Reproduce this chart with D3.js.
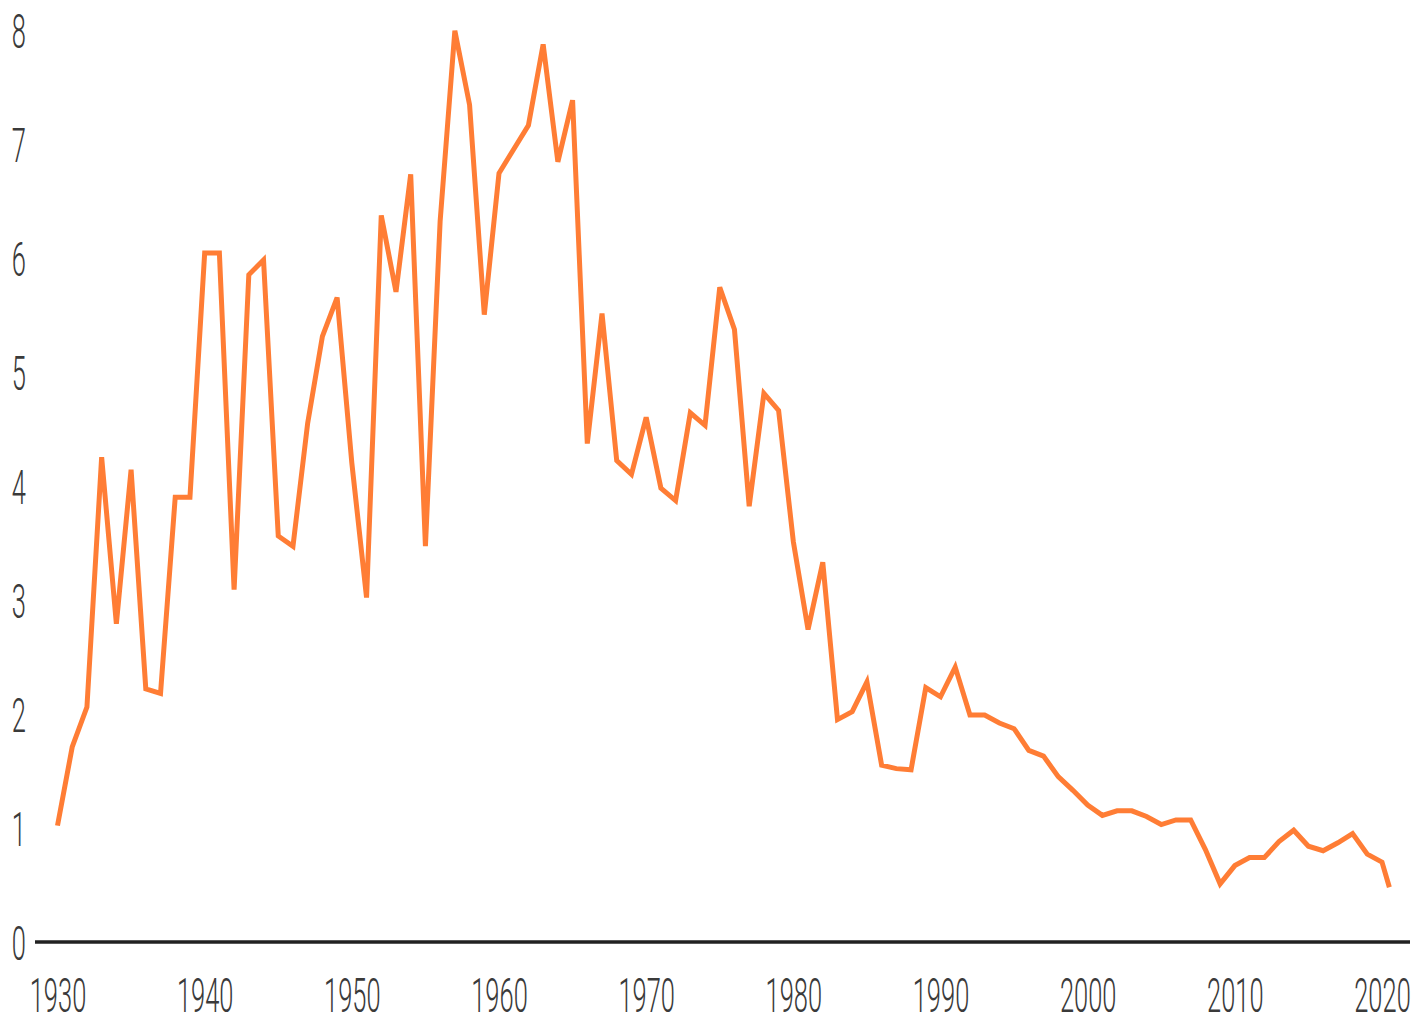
<!DOCTYPE html>
<html>
<head>
<meta charset="utf-8">
<script src="https://cdn.jsdelivr.net/npm/d3@7"></script>
<style>
  html, body { margin: 0; padding: 0; background: #fff; }
  svg { display: block; }
  .tick text { font-family: Roboto, 'Noto Sans', sans-serif; font-weight: 300; fill: #3a3a3a; }
</style>
</head>
<body>
<script>
// years (last point is a part-year reading) and values
var years = [
  1930, 1931, 1932, 1933, 1934, 1935, 1936, 1937, 1938, 1939,
  1940, 1941, 1942, 1943, 1944, 1945, 1946, 1947, 1948, 1949,
  1950, 1951, 1952, 1953, 1954, 1955, 1956, 1957, 1958, 1959,
  1960, 1961, 1962, 1963, 1964, 1965, 1966, 1967, 1968, 1969,
  1970, 1971, 1972, 1973, 1974, 1975, 1976, 1977, 1978, 1979,
  1980, 1981, 1982, 1983, 1984, 1985, 1986, 1987, 1988, 1989,
  1990, 1991, 1992, 1993, 1994, 1995, 1996, 1997, 1998, 1999,
  2000, 2001, 2002, 2003, 2004, 2005, 2006, 2007, 2008, 2009,
  2010, 2011, 2012, 2013, 2014, 2015, 2016, 2017, 2018, 2019,
  2020, 2020.5
]
var values = [
  1.02, 1.71, 2.06, 4.25, 2.79, 4.14, 2.22, 2.18, 3.90, 3.90,
  6.04, 6.04, 3.09, 5.85, 5.98, 3.56, 3.47, 4.55, 5.31, 5.65,
  4.20, 3.02, 6.37, 5.70, 6.73, 3.47, 6.32, 7.99, 7.34, 5.50,
  6.74, 6.95, 7.16, 7.87, 6.84, 7.38, 4.37, 5.51, 4.22, 4.10,
  4.60, 3.98, 3.87, 4.64, 4.53, 5.74, 5.37, 3.82, 4.81, 4.66,
  3.51, 2.74, 3.33, 1.95, 2.02, 2.28, 1.55, 1.52, 1.51, 2.23,
  2.15, 2.41, 1.99, 1.99, 1.92, 1.87, 1.68, 1.63, 1.45, 1.33,
  1.20, 1.11, 1.15, 1.15, 1.10, 1.03, 1.07, 1.07, 0.81, 0.51,
  0.67, 0.74, 0.74, 0.88, 0.98, 0.84, 0.80, 0.87, 0.95, 0.77,
  0.70, 0.48
]
var xTicks = [1930, 1940, 1950, 1960, 1970, 1980, 1990, 2000, 2010, 2020]
var yTicks = [0, 1, 2, 3, 4, 5, 6, 7, 8]

var data = years.map((yr, i) => ({year: yr, value: values[i]}))

var width = 1428
var height = 1017

var svg = d3.select('body').append('svg').attr('width', width).attr('height', height)

var x = d3.scaleLinear()
    .domain([1930, 2020])
    .range([57.5, 1382])

var y = d3.scaleLinear()
    .domain([0, 8])
    .range([942, 29.5])

var squeeze = 'scale(0.52,1)'   // labels are a narrow light face

// y axis labels, right aligned just left of the baseline
var yAxis = svg.append('g')
    .attr('transform', 'translate(26,0)')
    .call(d3.axisLeft(y).tickValues(yTicks).tickSize(0).tickPadding(0).tickFormat(d3.format('d')))
yAxis.select('.domain').remove()
yAxis.selectAll('text')
    .attr('x', 0).attr('y', 17.5).attr('dy', 0)
    .attr('font-size', 49)
    .attr('transform', squeeze)

// x axis labels under the baseline
var xAxis = svg.append('g')
    .attr('transform', `translate(0, ${y(0)})`)
    .call(d3.axisBottom(x).tickValues(xTicks).tickSize(0).tickPadding(0).tickFormat(d3.format('d')))
xAxis.select('.domain').remove()
xAxis.selectAll('text')
    .attr('y', 70).attr('dy', 0)
    .attr('font-size', 49)
    .attr('transform', squeeze)

// zero line
svg.append('line')
    .attr('x1', 35).attr('x2', 1410)
    .attr('y1', y(0)).attr('y2', y(0))
    .attr('stroke', '#222')
    .attr('stroke-width', 3.5)

var line = d3.line()
    .x(d => x(d.year))
    .y(d => y(d.value))

svg.append('path')
    .attr('d', line(data))
    .attr('fill', 'none')
    .attr('stroke', '#ff7d35')
    .attr('stroke-width', 5)
    .attr('stroke-linejoin', 'miter')
</script>
</body>
</html>
